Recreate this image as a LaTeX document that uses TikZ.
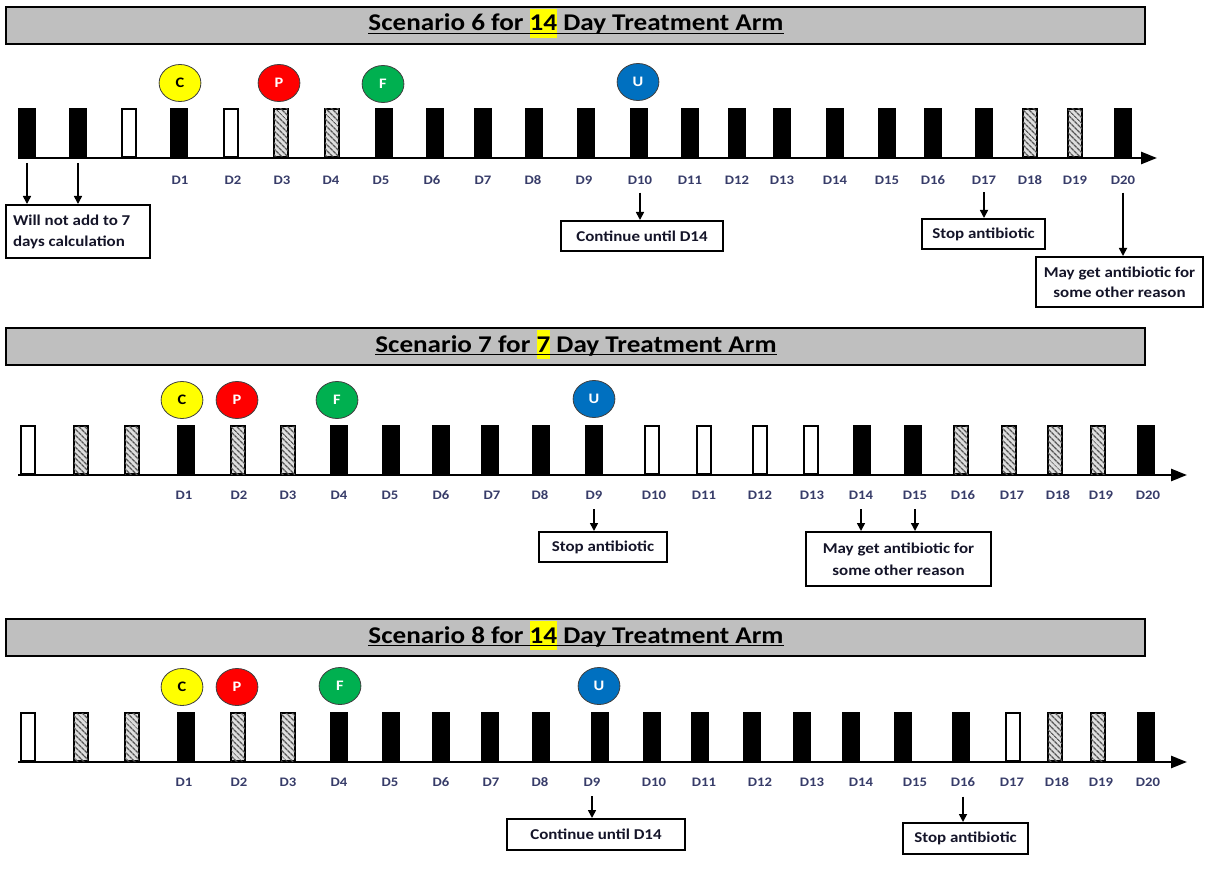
\documentclass[tikz,border=0pt]{standalone}
\usepackage{fontspec}
\setmainfont{Carlito}
\usetikzlibrary{arrows.meta,patterns.meta}
\definecolor{tbar}{RGB}{191,191,191}
\definecolor{cyel}{RGB}{255,255,0}
\definecolor{cred}{RGB}{255,0,0}
\definecolor{cgrn}{RGB}{0,176,80}
\definecolor{cblu}{RGB}{0,112,192}
\definecolor{dlabc}{RGB}{55,60,105}
\definecolor{boxtc}{RGB}{20,20,40}
\definecolor{hatchbg}{RGB}{222,222,222}
\definecolor{hatchln}{RGB}{85,85,85}
\newcommand{\hlyel}[1]{{\setlength{\fboxsep}{0pt}\colorbox{cyel}{\rule[-7pt]{0pt}{29pt}#1}}}
\begin{document}
\begin{tikzpicture}[x=1pt,y=-1pt,
  stretch/.style={xscale=1.13},
  titlebar/.style={draw=black,line width=2pt,fill=tbar,minimum width=1139pt,minimum height=37pt,inner sep=0pt},
  ttl/.style={stretch,inner sep=0pt,anchor=base,font=\bfseries\fontsize{24}{29}\selectfont},
  bb/.style={fill=black,minimum width=18pt,minimum height=50pt,inner sep=0pt,anchor=south},
  bw/.style={draw=black,line width=2pt,fill=white,minimum width=14pt,minimum height=48pt,inner sep=0pt,anchor=south},
  bh/.style={bw,fill=hatchbg,postaction={pattern={Lines[angle=-45,distance=4pt,line width=1.6pt]},pattern color=hatchln}},
  dlab/.style={stretch,inner sep=0pt,text=dlabc,font=\bfseries\fontsize{13}{16}\selectfont},
  circ/.style={stretch,circle,draw=black!75,line width=0.8pt,minimum size=37pt,inner sep=0pt,font=\bfseries\fontsize{14.5}{16}\selectfont},
  box/.style={stretch,draw=black,line width=2pt,inner sep=0pt,align=center,text=boxtc,font=\bfseries\fontsize{15}{21}\selectfont},
  arr/.style={-{Triangle[length=8pt,width=8pt]},line width=1.6pt},
  axisl/.style={-{Triangle[length=16pt,width=12pt]},line width=2.5pt}
]
\fill[white] (0,0) rectangle (1209,893);
\useasboundingbox (0,0) rectangle (1209,893);

% ================= Scenario 6 =================
\node[titlebar] (s6bar) at (575.5,25.5) {};
\node[ttl] (s6t) at (576,31) {Scenario 6 for \hlyel{14} Day Treatment Arm};
\draw[line width=1.5pt] ([yshift=-2.5pt]s6t.base west) -- ([yshift=-2.5pt]s6t.base east);
\coordinate (s6a0) at (18,158);
\coordinate (s6a1) at (1157,158);
\draw[axisl] (s6a0) -- (s6a1);
\foreach \x/\t [count=\i] in {27/bb,78/bb,129/bw} \node[\t] (s6p\i) at (\x,158) {};
\foreach \x/\t/\lx [count=\i] in {179/bb/180,231/bw/233,281/bh/282,332/bh/331,384/bb/381,435/bb/432,483/bb/483,534/bb/533,586/bb/584,639/bb/640,690/bb/690,737/bb/737,782/bb/782,835/bb/835,887/bb/887,933/bb/933,984/bb/984,1030/bh/1030,1075/bh/1075,1123/bb/1123}
{ \node[\t] (s6b\i) at (\x,158) {};
  \node[dlab] (s6d\i) at (\lx,180) {D\i}; }
\node[circ,fill=cyel,text=black] (s6C) at (180,83) {C};
\node[circ,fill=cred,text=white] (s6P) at (279,83) {P};
\node[circ,fill=cgrn,text=white] (s6F) at (383,84) {F};
\node[circ,fill=cblu,text=white] (s6U) at (638,82) {U};
\node[box,text width=115pt,inner xsep=6pt,align=flush left,minimum height=53pt] (s6w) at (78,231.5) {Will not add to 7\\days calculation};
\node[box,minimum width=143.4pt,minimum height=30pt] (s6c) at (642,236) {Continue until D14};
\node[box,minimum width=108.8pt,minimum height=30pt] (s6s) at (983.5,234) {Stop antibiotic};
\node[box,minimum width=147.8pt,minimum height=50pt,font=\bfseries\fontsize{15}{20}\selectfont] (s6m) at (1119.5,282) {May get antibiotic for\\some other reason};
\draw[arr] ([yshift=-5pt]s6p1.south) -- (s6p1.south |- s6w.north);
\draw[arr] ([yshift=-5pt]s6p2.south) -- (s6p2.south |- s6w.north);
\draw[arr] ([yshift=-8pt]s6d10.south) -- (s6d10.south |- s6c.north);
\draw[arr] ([yshift=-8pt]s6d17.south) -- (s6d17.south |- s6s.north);
\draw[arr] ([yshift=-8pt]s6d20.south) -- (s6d20.south |- s6m.north);

% ================= Scenario 7 =================
\node[titlebar] (s7bar) at (575.5,346) {};
\node[ttl] (s7t) at (576,352) {Scenario 7 for \hlyel{7} Day Treatment Arm};
\draw[line width=1.5pt] ([yshift=-2.5pt]s7t.base west) -- ([yshift=-2.5pt]s7t.base east);
\coordinate (s7a0) at (18,475);
\coordinate (s7a1) at (1187,475);
\draw[axisl] (s7a0) -- (s7a1);
\foreach \x/\t [count=\i] in {28/bw,81/bh,132/bh} \node[\t] (s7p\i) at (\x,475) {};
\foreach \x/\t/\lx [count=\i] in {186/bb/184,238/bh/239,288/bh/288,339/bb/339,391/bb/390,441/bb/441,490/bb/492,541/bb/540,594/bb/594,652/bw/654,704/bw/704,760/bw/760,811/bw/812,862/bb/861,913/bb/915,961/bh/963,1009/bh/1012,1055/bh/1058,1098/bh/1101,1146/bb/1148}
{ \node[\t] (s7b\i) at (\x,475) {};
  \node[dlab] (s7d\i) at (\lx,495) {D\i}; }
\node[circ,fill=cyel,text=black] (s7C) at (182,400) {C};
\node[circ,fill=cred,text=white] (s7P) at (237,400) {P};
\node[circ,fill=cgrn,text=white] (s7F) at (337,400) {F};
\node[circ,fill=cblu,text=white] (s7U) at (594,399) {U};
\node[box,minimum width=113.3pt,minimum height=30pt] (s7s) at (603,547) {Stop antibiotic};
\node[box,minimum width=163.7pt,minimum height=54pt,font=\bfseries\fontsize{15}{22}\selectfont] (s7m) at (898.5,559) {May get antibiotic for\\some other reason};
\draw[arr] ([yshift=-10pt]s7d9.south) -- (s7d9.south |- s7s.north);
\draw[arr] ([yshift=-10pt]s7d14.south) -- (s7d14.south |- s7m.north);
\draw[arr] ([yshift=-10pt]s7d15.south) -- (s7d15.south |- s7m.north);

% ================= Scenario 8 =================
\node[titlebar] (s8bar) at (575.5,637.5) {};
\node[ttl] (s8t) at (576,643) {Scenario 8 for \hlyel{14} Day Treatment Arm};
\draw[line width=1.5pt] ([yshift=-2.5pt]s8t.base west) -- ([yshift=-2.5pt]s8t.base east);
\coordinate (s8a0) at (18,762);
\coordinate (s8a1) at (1187,762);
\draw[axisl] (s8a0) -- (s8a1);
\foreach \x/\t [count=\i] in {28/bw,81/bh,132/bh} \node[\t] (s8p\i) at (\x,762) {};
\foreach \x/\t/\lx [count=\i] in {186/bb/184,238/bh/239,288/bh/288,339/bb/339,391/bb/390,441/bb/441,490/bb/491,541/bb/540,600/bb/592,652/bb/654,700/bb/704,752/bb/760,802/bb/812,851/bb/861,903/bb/915,961/bb/963,1013/bw/1012,1055/bh/1057,1098/bh/1101,1146/bb/1148}
{ \node[\t] (s8b\i) at (\x,762) {};
  \node[dlab] (s8d\i) at (\lx,782) {D\i}; }
\node[circ,fill=cyel,text=black] (s8C) at (182,687) {C};
\node[circ,fill=cred,text=white] (s8P) at (237,687) {P};
\node[circ,fill=cgrn,text=white] (s8F) at (340,686) {F};
\node[circ,fill=cblu,text=white] (s8U) at (599,686) {U};
\node[box,minimum width=157.5pt,minimum height=31pt] (s8c) at (596,834.5) {Continue until D14};
\node[box,minimum width=110.6pt,minimum height=31pt] (s8s) at (965.5,838.5) {Stop antibiotic};
\draw[arr] ([yshift=-10pt]s8d9.south) -- (s8d9.south |- s8c.north);
\draw[arr] ([yshift=-10pt]s8d16.south) -- (s8d16.south |- s8s.north);
\end{tikzpicture}
\end{document}
